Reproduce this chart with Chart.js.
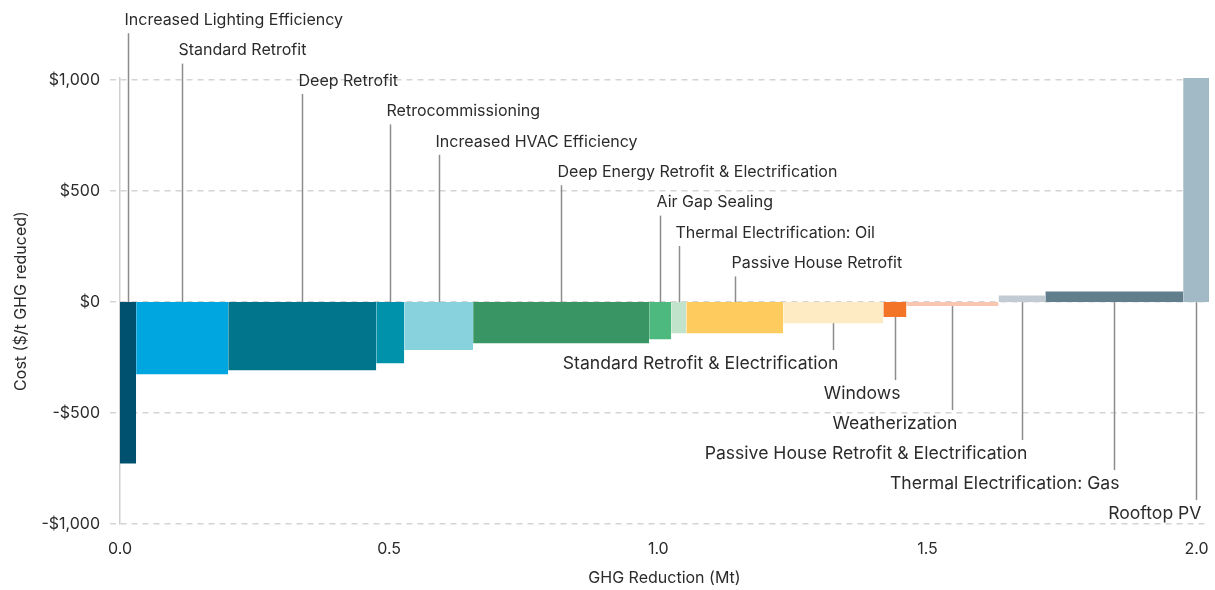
<!DOCTYPE html>
<html>
<head>
<meta charset="utf-8">
<script src="https://cdn.jsdelivr.net/npm/chart.js@4.4.0/dist/chart.umd.min.js"></script>
<style>
  html, body { margin: 0; background: #fff; }
</style>
</head>
<body>
<canvas id="macc" width="1215" height="590"></canvas>
<script>
const measures = [
  "Increased Lighting Efficiency",
  "Standard Retrofit",
  "Deep Retrofit",
  "Retrocommissioning",
  "Increased HVAC Efficiency",
  "Deep Energy Retrofit & Electrification",
  "Air Gap Sealing",
  "Thermal Electrification: Oil",
  "Passive House Retrofit",
  "Standard Retrofit & Electrification",
  "Windows",
  "Weatherization",
  "Passive House Retrofit & Electrification",
  "Thermal Electrification: Gas",
  "Rooftop PV"
];
// GHG reduction of each measure (Mt) = bar width
const reductions = [0.030, 0.171, 0.275, 0.052, 0.128, 0.327, 0.041, 0.028, 0.180, 0.186, 0.043, 0.171, 0.087, 0.256, 0.048];
// cost ($/t GHG reduced) = bar height
const costs = [-727, -325, -307, -275, -216, -185, -167, -140, -140, -95, -67, -18, 30, 48, 1010];
const colors = ["#00506f", "#00a6e0", "#00758c", "#0092aa", "#88d2dd", "#3a9564", "#4db97e", "#c1e3cc",
  "#fecb5e", "#feebc4", "#f37327", "#f8c6b1", "#c2cbd3", "#627d8b", "#a2b9c6"];
const xTicks = [0, 0.5, 1, 1.5, 2];
const yTicks = [-1000, -500, 0, 500, 1000];

const ABOVE = 9; // first measures labelled above the zero line
const FONT = "Inter, 'Noto Sans', sans-serif";
const TEXT = "#2b2b2b";

let starts = [], ends = [], acc = 0;
reductions.forEach(r => { starts.push(acc); acc += r; ends.push(acc); });
const total = acc;

const datasets = measures.map((m, i) => ({
  label: m,
  data: [{x: starts[i], y: costs[i]}, {x: ends[i], y: costs[i]}],
  backgroundColor: colors[i],
  borderColor: "rgba(0,0,0,0)",
  borderWidth: 0,
  pointRadius: 0,
  fill: "origin"
}));

// leader lines + labels for each measure
const leaderLabels = {
  id: "leaderLabels",
  afterDraw(chart) {
    const {ctx, scales: {x, y}} = chart;
    const zero = y.getPixelForValue(0);
    const top = y.getPixelForValue(1000);
    ctx.save();
    ctx.fillStyle = TEXT;
    ctx.strokeStyle = "#8c8c8c";
    ctx.lineWidth = 1.5;
    ctx.textBaseline = "middle";
    measures.forEach((name, i) => {
      const px = Math.round(x.getPixelForValue((starts[i] + ends[i]) / 2)) + 0.5;
      let ty, y0, y1, tx;
      if (i < ABOVE) {
        ty = top - 60 + i * 30.4;
        y0 = ty + 13;
        y1 = y.getPixelForValue(Math.max(costs[i], 0));
        ctx.font = "16px " + FONT;
        ctx.textAlign = "left";
        tx = px - 4;
      } else {
        ty = zero + 62 + (i - ABOVE) * 30;
        y0 = y.getPixelForValue(Math.min(costs[i], 0));
        y1 = ty - 14;
        ctx.font = "17.6px " + FONT;
        ctx.textAlign = "right";
        tx = px + 5;
      }
      ctx.beginPath();
      ctx.moveTo(px, y0);
      ctx.lineTo(px, y1);
      ctx.stroke();
      ctx.fillText(name, tx, ty);
    });
    ctx.restore();
  }
};

new Chart(document.getElementById("macc"), {
  type: "line",
  data: { datasets: datasets },
  options: {
    responsive: false,
    animation: false,
    layout: { padding: { top: 78, right: 6, left: 0, bottom: 0 } },
    plugins: { legend: { display: false }, tooltip: { enabled: false } },
    scales: {
      x: {
        type: "linear",
        min: 0,
        max: total,
        afterBuildTicks: s => { s.ticks = xTicks.map(v => ({value: v})); },
        afterFit: s => { s.height = 66; s.paddingLeft = 0; s.paddingRight = 0; },
        grid: { display: false, drawTicks: false },
        border: { display: false },
        ticks: {
          padding: 16,
          color: TEXT,
          font: { family: FONT, size: 16 },
          callback: v => v.toFixed(1)
        },
        title: {
          display: true,
          text: "GHG Reduction (Mt)",
          color: TEXT,
          font: { family: FONT, size: 16 },
          padding: { top: 0, bottom: 2 }
        }
      },
      y: {
        min: -1000,
        max: 1010,
        afterBuildTicks: s => { s.ticks = yTicks.map(v => ({value: v})); },
        afterFit: s => { s.width = 120; },
        grid: {
          color: "#d4d4d4",
          lineWidth: 1.5,
          tickLength: 10,
          tickColor: "#d4d4d4",
          tickBorderDash: [6, 5]
        },
        border: { display: true, color: "#cfcfcf", width: 1.5, dash: [6, 5] },
        ticks: {
          padding: 10,
          color: TEXT,
          font: { family: FONT, size: 16 },
          callback: v => (v < 0 ? "-$" : "$") + Math.abs(v).toLocaleString("en-US")
        },
        title: {
          display: true,
          text: "Cost ($/t GHG reduced)",
          color: TEXT,
          font: { family: FONT, size: 16 },
          padding: { top: 12, bottom: 0 }
        }
      }
    }
  },
  plugins: [leaderLabels]
});
</script>
</body>
</html>
